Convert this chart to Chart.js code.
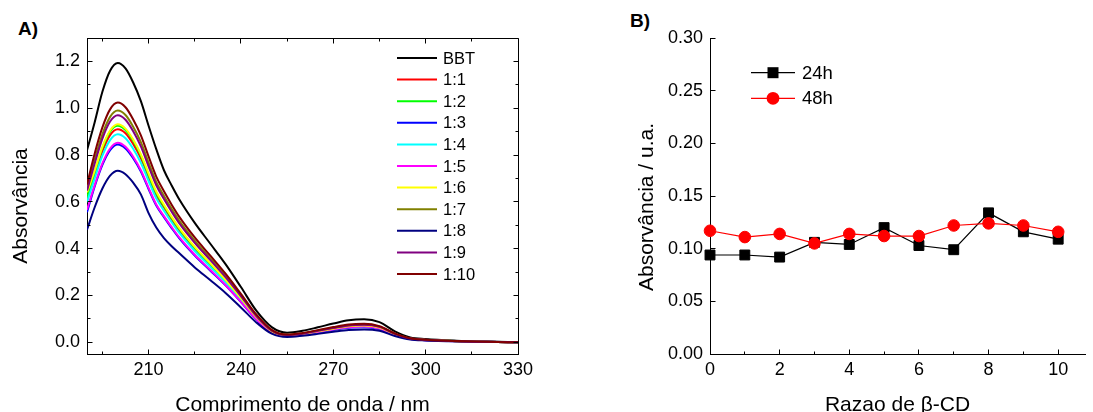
<!DOCTYPE html>
<html lang="pt">
<head>
<meta charset="UTF-8">
<title>Absorvância BBT / β-CD</title>
<script src="https://cdn.jsdelivr.net/npm/chart.js"></script>
<style>
  body { margin: 0; background: #fff; overflow: hidden; width: 1093px; height: 412px; position: relative; font-family: 'Liberation Sans', Arial, sans-serif; }
  .panel { position: absolute; top: 0; }
  .tag { position: absolute; font-weight: bold; font-size: 19px; line-height: 1; }
</style>
</head>
<body>
<div class="tag" style="left:18px; top:19px">A)</div>
<div class="tag" style="left:630px; top:11px">B)</div>
<canvas id="specChart" class="panel" style="left:0" width="545" height="416"></canvas>
<canvas id="ratioChart" class="panel" style="left:620px" width="473" height="416"></canvas>
<script>
// ---- panel A: spectra ----
const wavelengths = [190, 192.5, 195, 197.5, 200, 202.5, 205, 207.5, 210, 212.5, 215, 217.5, 220, 225, 230, 235, 240, 245, 250, 255, 260, 265, 270, 275, 280, 285, 290, 295, 300, 310, 320, 330];
const absBBT  = [0.820, 0.940, 1.070, 1.160, 1.193, 1.170, 1.110, 1.030, 0.925, 0.825, 0.735, 0.670, 0.610, 0.510, 0.422, 0.334, 0.236, 0.135, 0.065, 0.041, 0.049, 0.064, 0.080, 0.094, 0.098, 0.086, 0.047, 0.021, 0.014, 0.007, 0.003, 0.000];
const abs1_1  = [0.612, 0.717, 0.816, 0.885, 0.910, 0.893, 0.847, 0.786, 0.706, 0.629, 0.576, 0.525, 0.478, 0.399, 0.330, 0.262, 0.185, 0.106, 0.046, 0.029, 0.035, 0.046, 0.057, 0.067, 0.070, 0.061, 0.034, 0.015, 0.010, 0.005, 0.002, 0.000];
const abs1_2  = [0.619, 0.726, 0.830, 0.900, 0.925, 0.907, 0.861, 0.798, 0.714, 0.637, 0.582, 0.531, 0.483, 0.404, 0.334, 0.265, 0.187, 0.107, 0.047, 0.030, 0.035, 0.046, 0.058, 0.068, 0.071, 0.062, 0.034, 0.015, 0.010, 0.005, 0.002, 0.000];
const abs1_3  = [0.556, 0.666, 0.758, 0.821, 0.845, 0.828, 0.786, 0.729, 0.655, 0.584, 0.535, 0.488, 0.444, 0.371, 0.307, 0.243, 0.172, 0.098, 0.043, 0.027, 0.032, 0.042, 0.053, 0.062, 0.064, 0.057, 0.031, 0.014, 0.009, 0.005, 0.002, 0.000];
const abs1_4  = [0.599, 0.700, 0.797, 0.864, 0.889, 0.872, 0.827, 0.767, 0.689, 0.615, 0.562, 0.513, 0.467, 0.390, 0.323, 0.256, 0.181, 0.103, 0.045, 0.028, 0.034, 0.044, 0.056, 0.065, 0.068, 0.060, 0.033, 0.015, 0.010, 0.005, 0.002, 0.000];
const abs1_5  = [0.566, 0.671, 0.764, 0.828, 0.852, 0.835, 0.793, 0.735, 0.660, 0.589, 0.539, 0.492, 0.448, 0.374, 0.310, 0.245, 0.173, 0.099, 0.043, 0.028, 0.034, 0.044, 0.055, 0.064, 0.067, 0.059, 0.032, 0.014, 0.009, 0.005, 0.002, 0.000];
const abs1_6  = [0.640, 0.733, 0.835, 0.905, 0.931, 0.913, 0.866, 0.803, 0.722, 0.644, 0.588, 0.536, 0.488, 0.408, 0.338, 0.267, 0.189, 0.108, 0.047, 0.030, 0.036, 0.047, 0.058, 0.069, 0.072, 0.063, 0.034, 0.015, 0.010, 0.005, 0.002, 0.000];
const abs1_7  = [0.656, 0.780, 0.888, 0.963, 0.990, 0.971, 0.921, 0.855, 0.768, 0.685, 0.625, 0.570, 0.519, 0.434, 0.359, 0.284, 0.201, 0.115, 0.051, 0.032, 0.038, 0.050, 0.062, 0.073, 0.076, 0.067, 0.037, 0.016, 0.011, 0.005, 0.002, 0.000];
const abs1_8  = [0.481, 0.577, 0.657, 0.712, 0.733, 0.718, 0.682, 0.632, 0.552, 0.490, 0.445, 0.410, 0.380, 0.320, 0.266, 0.211, 0.149, 0.085, 0.037, 0.023, 0.028, 0.036, 0.045, 0.053, 0.055, 0.049, 0.027, 0.012, 0.008, 0.004, 0.002, 0.000];
const abs1_9  = [0.648, 0.764, 0.870, 0.943, 0.970, 0.951, 0.902, 0.837, 0.752, 0.671, 0.612, 0.558, 0.508, 0.425, 0.352, 0.278, 0.197, 0.112, 0.050, 0.031, 0.037, 0.049, 0.061, 0.072, 0.075, 0.066, 0.036, 0.016, 0.011, 0.005, 0.002, 0.000];
const abs1_10 = [0.674, 0.807, 0.918, 0.995, 1.024, 1.004, 0.952, 0.884, 0.794, 0.708, 0.645, 0.588, 0.536, 0.448, 0.371, 0.293, 0.207, 0.119, 0.053, 0.033, 0.040, 0.052, 0.065, 0.076, 0.079, 0.069, 0.038, 0.017, 0.011, 0.006, 0.002, 0.000];
const specLabels = ['BBT', '1:1', '1:2', '1:3', '1:4', '1:5', '1:6', '1:7', '1:8', '1:9', '1:10'];
const specSeries = [absBBT, abs1_1, abs1_2, abs1_3, abs1_4, abs1_5, abs1_6, abs1_7, abs1_8, abs1_9, abs1_10];
const specXTicks = [210, 240, 270, 300, 330];
const specXMinor = [195, 225, 255, 285, 315];
const specYTicks = [0, 0.2, 0.4, 0.6, 0.8, 1.0, 1.2];
const specYMinor = [0.1, 0.3, 0.5, 0.7, 0.9, 1.1];

// ---- panel B: absorbance vs ratio ----
const ratios  = [0, 1, 2, 3, 4, 5, 6, 7, 8, 9, 10];
const abs24h  = [0.094, 0.094, 0.092, 0.106, 0.104, 0.120, 0.103, 0.099, 0.134, 0.116, 0.109];
const abs48h  = [0.117, 0.111, 0.114, 0.105, 0.114, 0.112, 0.112, 0.122, 0.124, 0.122, 0.116];
const ratioXTicks = [0, 2, 4, 6, 8, 10];
const ratioXMinor = [1, 3, 5, 7, 9];
const ratioYTicks = [0, 0.05, 0.10, 0.15, 0.20, 0.25, 0.30];

const specColors = ['#000000', '#ff0000', '#00ff00', '#0000ff', '#00ffff', '#ff00ff', '#ffff00', '#808000', '#000080', '#800080', '#800000'];
const FONT = "'Liberation Sans', Arial, sans-serif";
Chart.defaults.font.family = FONT;
Chart.defaults.color = '#000';

function align(px) { return Math.round(px - 0.5) + 0.5; }

// ticks pointing inward, frame, axis titles and the hand-drawn legends
const decor = {
  id: 'decor',
  afterDraw(chart, args, o) {
    const ctx = chart.ctx, a = chart.chartArea;
    const xs = chart.scales.x, ys = chart.scales.y;
    ctx.save();
    ctx.strokeStyle = '#000';
    ctx.lineWidth = 1;
    ctx.beginPath();
    const L = align(a.left), R = align(a.right), T = align(a.top), B = align(a.bottom);
    if (o.frame) {
      ctx.moveTo(L, T); ctx.lineTo(R, T); ctx.lineTo(R, B);
    }
    const xTick = (v, len) => {
      const px = align(xs.getPixelForValue(v));
      ctx.moveTo(px, B); ctx.lineTo(px, B - len);
      if (o.frame) { ctx.moveTo(px, T); ctx.lineTo(px, T + len); }
    };
    const yTick = (v, len) => {
      const py = align(ys.getPixelForValue(v));
      ctx.moveTo(L, py); ctx.lineTo(L + len, py);
      if (o.frame) { ctx.moveTo(R, py); ctx.lineTo(R - len, py); }
    };
    o.xMajor.forEach(v => xTick(v, 5));
    o.xMinor.forEach(v => xTick(v, 3));
    o.yMajor.forEach(v => yTick(v, 5));
    o.yMinor.forEach(v => yTick(v, 3));
    ctx.stroke();

    ctx.fillStyle = '#000';
    ctx.font = '21px ' + FONT;
    ctx.textAlign = 'center';
    ctx.textBaseline = 'alphabetic';
    ctx.fillText(o.xTitle, (a.left + a.right) / 2, o.xTitleY);
    ctx.save();
    ctx.translate(o.yTitleX, o.yTitleY);
    ctx.rotate(-Math.PI / 2);
    ctx.fillText(o.yTitle, 0, 0);
    ctx.restore();

    // legend
    const lg = o.legend;
    ctx.font = lg.size + 'px ' + FONT;
    ctx.textAlign = 'left';
    ctx.textBaseline = 'middle';
    chart.data.datasets.forEach((ds, i) => {
      const y = lg.y0 + i * lg.dy;
      ctx.strokeStyle = ds.borderColor;
      ctx.lineWidth = ds.borderWidth;
      ctx.beginPath();
      ctx.moveTo(lg.x0, y); ctx.lineTo(lg.x1, y);
      ctx.stroke();
      if (lg.marker) {
        const cx = (lg.x0 + lg.x1) / 2;
        ctx.fillStyle = ds.pointBackgroundColor;
        ctx.beginPath();
        if (ds.pointStyle === 'rect') ctx.rect(cx - 5.5, y - 5.5, 11, 11);
        else ctx.arc(cx, y, 6.4, 0, Math.PI * 2);
        ctx.fill();
      }
      ctx.fillStyle = '#000';
      ctx.fillText(ds.label, lg.tx, y + 1);
    });
    ctx.restore();
  }
};

function axis(min, max, ticks, fmt, isX, size) {
  return {
    type: 'linear', min: min, max: max,
    afterBuildTicks: s => { s.ticks = ticks.map(v => ({ value: v })); },
    afterFit: s => { if (isX) s.height = size; else s.width = size; },
    grid: { display: false, drawTicks: false },
    border: { display: true, color: '#000', width: 1 },
    ticks: { padding: isX ? 5 : 7, color: '#000', font: { size: 18 }, maxRotation: 0, autoSkip: false, callback: v => fmt(v) }
  };
}

new Chart(document.getElementById('specChart'), {
  type: 'line',
  data: {
    datasets: specSeries.map((vals, i) => ({
      label: specLabels[i],
      data: wavelengths.map((w, j) => ({ x: w, y: vals[j] })),
      borderColor: specColors[i],
      borderWidth: 2,
      pointRadius: 0,
      cubicInterpolationMode: 'monotone',
      order: specSeries.length - i
    }))
  },
  options: {
    responsive: false,
    animation: false,
    events: [],
    layout: { padding: { top: 38, right: 27, left: 0, bottom: 0 } },
    plugins: {
      legend: { display: false },
      tooltip: { enabled: false },
      decor: {
        frame: true,
        xMajor: specXTicks, xMinor: specXMinor, yMajor: specYTicks, yMinor: specYMinor,
        xTitle: 'Comprimento de onda / nm', xTitleY: 411,
        yTitle: 'Absorvância', yTitleX: 27, yTitleY: 206,
        legend: { x0: 397, x1: 437, tx: 443, y0: 58, dy: 21.6, size: 16.5, marker: false }
      }
    },
    scales: {
      x: axis(190, 330, specXTicks, v => String(v), true, 62),
      y: axis(-0.05, 1.3, specYTicks, v => v.toFixed(1), false, 87)
    }
  },
  plugins: [decor]
});

new Chart(document.getElementById('ratioChart'), {
  type: 'line',
  data: {
    datasets: [
      {
        label: '24h',
        data: ratios.map((r, j) => ({ x: r, y: abs24h[j] })),
        borderColor: '#000', borderWidth: 1.2,
        pointStyle: 'rect', pointRadius: 7, pointBorderWidth: 1,
        pointBackgroundColor: '#000', pointBorderColor: '#000',
        clip: false, order: 2
      },
      {
        label: '48h',
        data: ratios.map((r, j) => ({ x: r, y: abs48h[j] })),
        borderColor: '#ff0000', borderWidth: 1.2,
        pointStyle: 'circle', pointRadius: 5.8, pointBorderWidth: 1,
        pointBackgroundColor: '#ff0000', pointBorderColor: '#ff0000',
        clip: false, order: 1
      }
    ]
  },
  options: {
    responsive: false,
    animation: false,
    events: [],
    layout: { padding: { top: 38, right: 0, left: 0, bottom: 0 } },
    plugins: {
      legend: { display: false },
      tooltip: { enabled: false },
      decor: {
        frame: false,
        xMajor: ratioXTicks, xMinor: ratioXMinor, yMajor: ratioYTicks, yMinor: [],
        xTitle: 'Razao de β-CD', xTitleY: 411,
        yTitle: 'Absorvância / u.a.', yTitleX: 33, yTitleY: 207,
        legend: { x0: 131, x1: 175, tx: 182, y0: 72.7, dy: 25.6, size: 18.5, marker: true }
      }
    },
    scales: {
      x: axis(0, 10.77, ratioXTicks, v => String(v), true, 62),
      y: axis(0, 0.30, ratioYTicks, v => v.toFixed(2), false, 90)
    }
  },
  plugins: [decor]
});
</script>
</body>
</html>
